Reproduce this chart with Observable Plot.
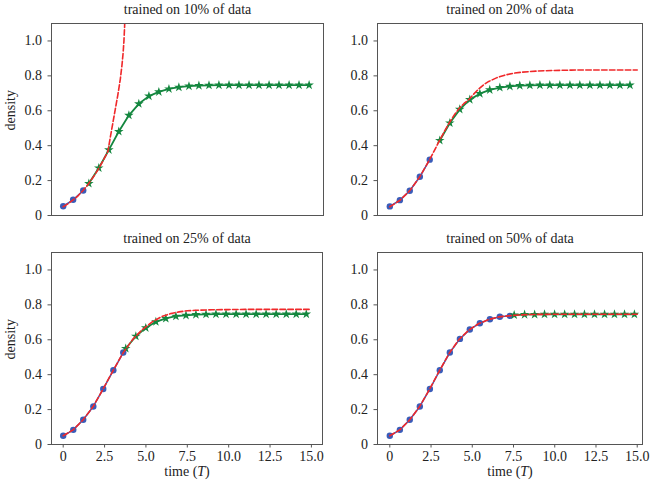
<!DOCTYPE html>
<html><head><meta charset="utf-8">
<script src="https://cdn.jsdelivr.net/npm/d3@7"></script>
<script src="https://cdn.jsdelivr.net/npm/@observablehq/plot@0.6"></script>
<style>
body{margin:0;background:#fff;}
#fig{position:relative;width:651px;height:484px;overflow:hidden;background:#fff;}
#fig svg{position:absolute;background:transparent;}
</style></head><body><div id="fig"></div>
<script>
const titles = ["trained on 10% of data","trained on 20% of data","trained on 25% of data","trained on 50% of data"];
const yTicks = [0, 0.2, 0.4, 0.6, 0.8, 1.0];
const xTicks = [0, 2.5, 5, 7.5, 10, 12.5, 15];
const yLabel = "density";
const xLabel = "time (T)";

// Panel 1: 10%
const p1TrainT = [0, 0.6, 1.21];
const p1TrainY = [0.053, 0.09, 0.143];
const p1TestT = [1.55, 2.15, 2.76, 3.36, 3.97, 4.57, 5.18, 5.78, 6.39, 6.99, 7.6, 8.2, 8.81, 9.41, 10.02, 10.62, 11.23, 11.83, 12.44, 13.04, 13.65, 14.25, 14.86];
const p1TestY = [0.183, 0.272, 0.376, 0.481, 0.574, 0.64, 0.684, 0.708, 0.725, 0.735, 0.741, 0.744, 0.746, 0.747, 0.747, 0.747, 0.747, 0.747, 0.747, 0.747, 0.747, 0.747, 0.747];
const p1PredT = [0, 0.3, 0.6, 0.9, 1.2, 1.5, 1.8, 2.1, 2.4, 2.7, 2.85, 3.0, 3.15, 3.3, 3.45, 3.55, 3.62, 3.67, 3.71, 3.75];
const p1PredY = [0.05, 0.068, 0.089, 0.113, 0.143, 0.178, 0.218, 0.262, 0.312, 0.366, 0.45, 0.53, 0.61, 0.69, 0.78, 0.86, 0.93, 1.0, 1.08, 1.22];

// Panel 2: 20%
const p2TrainT = [0, 0.61, 1.21, 1.82, 2.42];
const p2TrainY = [0.052, 0.088, 0.142, 0.222, 0.32];
const p2TestT = [3.03, 3.64, 4.24, 4.85, 5.46, 6.06, 6.67, 7.28, 7.88, 8.49, 9.1, 9.7, 10.31, 10.92, 11.52, 12.13, 12.74, 13.34, 13.95, 14.56];
const p2TestY = [0.43, 0.53, 0.608, 0.664, 0.698, 0.72, 0.733, 0.74, 0.744, 0.746, 0.747, 0.747, 0.747, 0.747, 0.747, 0.747, 0.747, 0.747, 0.747, 0.747];
const p2PredT = [0, 0.6, 1.2, 1.8, 2.4, 2.7, 3.0, 3.3, 3.6, 3.9, 4.2, 4.5, 4.8, 5.1, 5.4, 5.7, 6.0, 6.5, 7.0, 7.5, 8.0, 9.0, 10.0, 11.0, 12.0, 13.0, 14.0, 15.0];
const p2PredY = [0.05, 0.086, 0.141, 0.219, 0.318, 0.372, 0.427, 0.48, 0.53, 0.575, 0.613, 0.642, 0.665, 0.697, 0.726, 0.75, 0.768, 0.79, 0.805, 0.815, 0.821, 0.828, 0.831, 0.833, 0.834, 0.834, 0.834, 0.834];

// Panel 3: 25%
const p3TrainT = [0, 0.61, 1.21, 1.82, 2.42, 3.03, 3.63];
const p3TrainY = [0.05, 0.084, 0.142, 0.218, 0.318, 0.425, 0.527];
const p3TestT = [3.78, 4.39, 4.99, 5.6, 6.2, 6.81, 7.42, 8.02, 8.63, 9.23, 9.84, 10.45, 11.05, 11.66, 12.26, 12.87, 13.48, 14.08, 14.69];
const p3TestY = [0.55, 0.62, 0.668, 0.703, 0.722, 0.735, 0.74, 0.744, 0.746, 0.747, 0.747, 0.747, 0.747, 0.747, 0.747, 0.747, 0.747, 0.747, 0.747];
const p3PredT = [0, 0.6, 1.2, 1.8, 2.4, 3.0, 3.6, 4.2, 4.8, 5.4, 6.0, 6.5, 7.0, 7.5, 8.0, 9.0, 10.0, 11.0, 12.0, 13.0, 14.0, 15.0];
const p3PredY = [0.05, 0.084, 0.141, 0.216, 0.316, 0.421, 0.522, 0.602, 0.66, 0.704, 0.735, 0.75, 0.76, 0.766, 0.769, 0.772, 0.773, 0.774, 0.774, 0.774, 0.774, 0.774];

// Panel 4: 50%
const p4TrainT = [0, 0.61, 1.21, 1.82, 2.43, 3.03, 3.64, 4.25, 4.85, 5.46, 6.07, 6.67, 7.28];
const p4TrainY = [0.05, 0.084, 0.142, 0.218, 0.318, 0.425, 0.527, 0.605, 0.659, 0.695, 0.718, 0.732, 0.737];
const p4TestT = [7.54, 8.17, 8.78, 9.38, 9.99, 10.6, 11.2, 11.8, 12.41, 13.02, 13.62, 14.23, 14.83];
const p4TestY = [0.742, 0.744, 0.745, 0.746, 0.746, 0.746, 0.746, 0.746, 0.746, 0.746, 0.746, 0.746, 0.746];
const p4PredT = [0, 0.6, 1.2, 1.8, 2.4, 3.0, 3.6, 4.2, 4.8, 5.4, 6.0, 6.6, 7.2, 7.8, 8.5, 10.0, 12.0, 15.0];
const p4PredY = [0.05, 0.083, 0.14, 0.216, 0.315, 0.421, 0.522, 0.602, 0.656, 0.693, 0.716, 0.731, 0.737, 0.742, 0.745, 0.746, 0.746, 0.746];

const BLUE = "#3a5cb9", GREEN = "#14873f", RED = "#f0282a", FRAME = "#555555";
const SERIF = "'Liberation Serif', serif";
const rows = (t, y) => t.map((d, i) => ({t: d, y: y[i]}));
const fmt = d => d === 0 ? "0" : d.toFixed(1);

function panel(o) {
  const train = rows(o.trainT, o.trainY), test = rows(o.testT, o.testY), pred = rows(o.predT, o.predY);
  const marks = [
    Plot.line(train, {x: "t", y: "y", stroke: BLUE, strokeWidth: 1.5}),
    Plot.dot(train, {x: "t", y: "y", fill: BLUE, r: 3.2}),
    Plot.line(test, {x: "t", y: "y", stroke: GREEN, strokeWidth: 1.8}),
    Plot.dot(test, {x: "t", y: "y", fill: GREEN, symbol: "star", r: 3.0}),
    Plot.line(pred, {x: "t", y: "y", stroke: RED, strokeWidth: 1.6, strokeDasharray: "5.5,2.4", clip: true}),
    Plot.frame({stroke: FRAME, strokeWidth: 1}),
    Plot.axisY({ticks: yTicks, tickFormat: fmt, tickSize: 3.5, tickPadding: 6, fontSize: 14, stroke: FRAME, label: null}),
    Plot.text([o.title], {frameAnchor: "top", dy: -10, lineAnchor: "bottom", fontSize: 14, fill: "#222"})
  ];
  if (o.bottom) {
    marks.push(Plot.axisX({ticks: xTicks, tickFormat: fmt, tickSize: 3.5, tickPadding: 3, fontSize: 14, stroke: FRAME, label: null}));
    marks.push(Plot.text([xLabel], {frameAnchor: "bottom", dy: 31, lineAnchor: "bottom", fontSize: 14, fill: "#222"}));
  }
  if (o.left) {
    marks.push(Plot.text([yLabel], {frameAnchor: "left", rotate: -90, dx: -41, dy: 11, fontSize: 14, fill: "#222"}));
  }
  const svg = Plot.plot({
    width: o.width, height: o.height,
    marginLeft: o.ml, marginRight: o.mr, marginTop: o.mt, marginBottom: o.mb,
    x: {domain: o.xd, axis: o.bottom ? undefined : null},
    y: {domain: [0, 1.1]},
    style: {fontFamily: SERIF, fontSize: "13px", color: "#222", background: "transparent"},
    marks
  });
  svg.style.left = o.left0 + "px";
  svg.style.top = o.top0 + "px";
  svg.style.maxWidth = "none";
  svg.querySelectorAll("text").forEach(t => {
    t.style.fontFamily = SERIF;
    const g = t.closest("g[aria-label]");
    if (g && /tick label/.test(g.getAttribute("aria-label"))) {
      t.style.fontSize = "14px";
      t.style.fontVariant = "normal";
    }
    if (t.textContent === xLabel) {
      t.textContent = "";
      t.appendChild(document.createTextNode("time ("));
      const ts = document.createElementNS("http://www.w3.org/2000/svg", "tspan");
      ts.setAttribute("font-style", "italic");
      ts.textContent = "T";
      t.appendChild(ts);
      t.appendChild(document.createTextNode(")"));
    }
  });
  return svg;
}

const fig = document.getElementById("fig");
fig.appendChild(panel({title: titles[0], trainT: p1TrainT, trainY: p1TrainY, testT: p1TestT, testY: p1TestY, predT: p1PredT, predY: p1PredY,
  width: 330, height: 230, ml: 51, mr: 7, mt: 23, mb: 15, xd: [-0.707, 15.73], left0: 0, top0: 0, left: true, bottom: false}));
fig.appendChild(panel({title: titles[1], trainT: p2TrainT, trainY: p2TrainY, testT: p2TestT, testY: p2TestY, predT: p2PredT, predY: p2PredY,
  width: 325, height: 230, ml: 51, mr: 9, mt: 23, mb: 15, xd: [-0.746, 15.32], left0: 326, top0: 0, left: false, bottom: false}));
fig.appendChild(panel({title: titles[2], trainT: p3TrainT, trainY: p3TrainY, testT: p3TestT, testY: p3TestY, predT: p3PredT, predY: p3PredY,
  width: 330, height: 254, ml: 51, mr: 8, mt: 22, mb: 40, xd: [-0.707, 15.67], left0: 0, top0: 230, left: true, bottom: true}));
fig.appendChild(panel({title: titles[3], trainT: p4TrainT, trainY: p4TrainY, testT: p4TestT, testY: p4TestY, predT: p4PredT, predY: p4PredY,
  width: 325, height: 254, ml: 51, mr: 9, mt: 22, mb: 40, xd: [-0.746, 15.32], left0: 326, top0: 230, left: false, bottom: true}));
</script></body></html>
